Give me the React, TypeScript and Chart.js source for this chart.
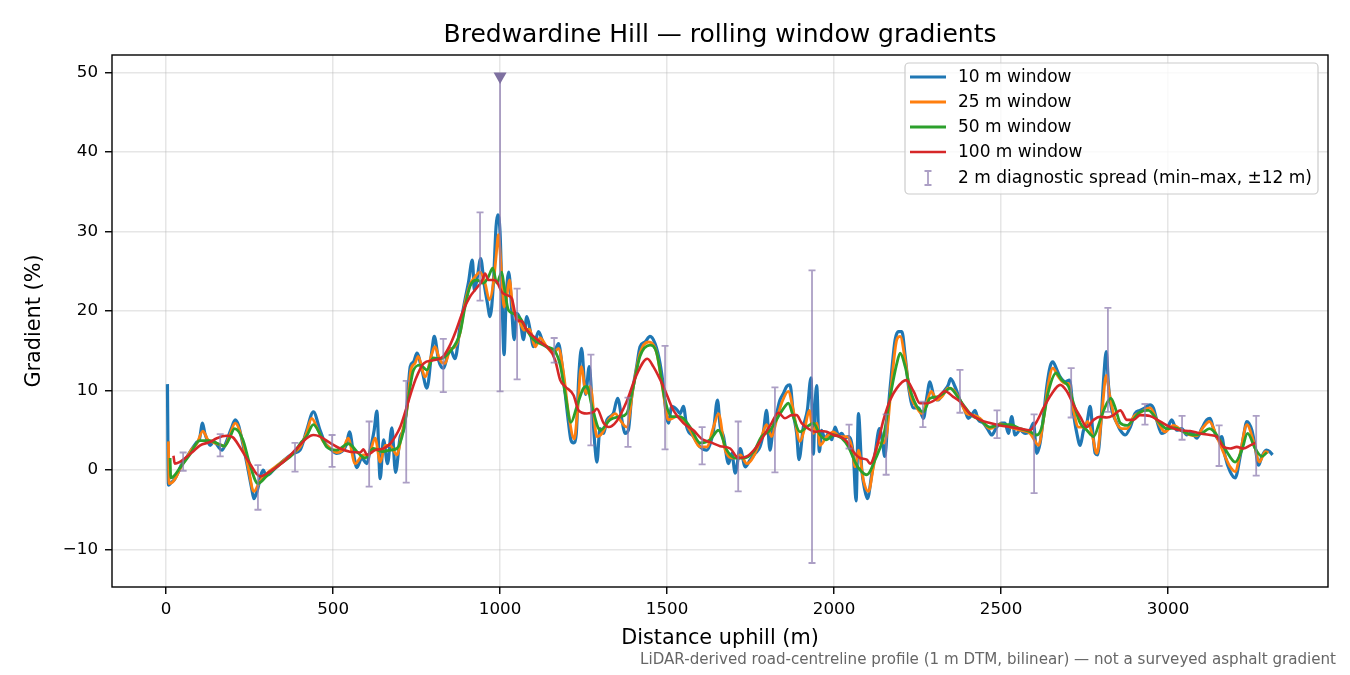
import { useEffect, useRef } from "react"
import { Chart, registerables } from "chart.js"

Chart.register(...registerables)

type Pt = [number, number]

// rolling-window gradients: [distance uphill (m), gradient (%)]
const w10: Pt[] = [
  [4, 10.8], [7, -1.9], [15, -1.6], [25, -1.2], [35, -0.4], [45, 0.6], [60, 1.5], [75, 2.5], [90, 3.4], [100, 3.9],
  [109, 5.9], [116, 4.6], [125, 3.6], [132, 3.1], [142, 3.6], [150, 3.3], [157, 2.9], [167, 2.5], [180, 3.5], [195, 5.2],
  [207, 6.3], [217, 5.6], [227, 3.8], [242, 0.8], [257, -2.5], [263, -3.6], [270, -3.0], [276, -2.1], [284, -0.6], [291, 0],
  [298, -0.6], [305, -0.6], [321, 0], [341, 0.8], [361, 1.5], [381, 2.1], [401, 2.5], [421, 5.0], [441, 7.3], [461, 5.0],
  [476, 3.4], [491, 2.7], [511, 2.1], [526, 2.3], [540, 3.2], [549, 4.8], [561, 2.1], [571, 0.3], [586, 1.5], [601, 0.8],
  [611, 2.5], [623, 5.0], [631, 7.4], [641, -1.1], [651, 3.8], [663, 0.8], [676, 5.3], [687, -0.3], [701, 4.2], [711, 5.0],
  [721, 8.0], [731, 13.0], [741, 13.6], [751, 14.7], [766, 12.6], [781, 10.3], [796, 15.1], [803, 16.8], [816, 13.8], [830, 12.8],
  [850, 15.3], [865, 14.0], [880, 18.0], [895, 21.4], [905, 23.5], [917, 26.4], [923, 22.6], [932, 24.3], [942, 26.6], [952, 23.5],
  [962, 21.0], [970, 19.3], [980, 23.5], [988, 30.6], [993, 32.1], [1000, 29.8], [1006, 21.4], [1012, 14.5], [1018, 21.4], [1026, 24.9],
  [1035, 20.1], [1042, 16.4], [1050, 19.7], [1060, 18.9], [1070, 16.4], [1080, 19.3], [1090, 17.6], [1100, 15.5], [1115, 17.4], [1130, 15.9],
  [1145, 15.3], [1160, 14.7], [1175, 15.9], [1185, 13.4], [1195, 9.6], [1205, 5.9], [1212, 3.8], [1220, 3.4], [1228, 4.5], [1236, 12.0],
  [1244, 15.3], [1256, 9.5], [1267, 13.0], [1276, 8.0], [1284, 3.0], [1290, 1.0], [1299, 5.2], [1310, 4.6], [1320, 6.3], [1339, 7.1],
  [1352, 9.0], [1366, 6.0], [1374, 4.6], [1384, 5.0], [1394, 9.2], [1409, 13.0], [1419, 15.5], [1434, 16.1], [1449, 16.8], [1464, 15.9],
  [1479, 13.4], [1489, 10.5], [1497, 7.1], [1504, 5.9], [1514, 8.0], [1529, 7.6], [1539, 7.1], [1549, 8.0], [1559, 5.4], [1579, 4.2],
  [1599, 2.9], [1619, 2.5], [1639, 5.0], [1651, 8.8], [1659, 5.5], [1669, 4.2], [1684, 0.8], [1694, 2.1], [1704, -0.4], [1719, 2.7],
  [1734, 0.4], [1749, 1.3], [1764, 2.1], [1778, 2.9], [1788, 4.6], [1798, 7.5], [1808, 2.5], [1818, 5.4], [1828, 7.1], [1838, 8.8],
  [1848, 9.6], [1858, 10.5], [1868, 10.7], [1878, 7.1], [1888, 4.6], [1895, 1.3], [1908, 5.4], [1920, 7.5], [1931, 11.6], [1938, 2.0],
  [1943, 8.0], [1948, 10.6], [1956, 2.3], [1963, 5.0], [1973, 3.8], [1983, 4.6], [1993, 3.8], [2003, 5.4], [2013, 4.4], [2023, 4.6],
  [2033, 4.0], [2043, 4.2], [2058, 1.7], [2066, -3.9], [2073, 7.1], [2083, 0], [2092, -2.5], [2100, -3.6], [2113, -0.5], [2123, 2.1],
  [2136, 5.2], [2145, 3.5], [2152, 1.7], [2163, 8.0], [2173, 12.6], [2183, 16.4], [2193, 17.4], [2203, 17.4], [2213, 14.3], [2223, 10.5],
  [2238, 7.8], [2253, 7.8], [2268, 6.5], [2278, 9.2], [2287, 11.1], [2299, 9.2], [2312, 8.8], [2329, 9.9], [2342, 10.7], [2349, 11.5],
  [2362, 10.5], [2377, 8.8], [2392, 7.5], [2402, 6.5], [2412, 6.9], [2422, 7.5], [2432, 6.3], [2447, 5.9], [2462, 5.0], [2472, 4.4],
  [2487, 5.4], [2502, 5.9], [2512, 5.9], [2522, 4.6], [2532, 6.7], [2542, 4.4], [2557, 5.0], [2572, 4.6], [2587, 5.0], [2597, 5.9],
  [2607, 2.1], [2617, 3.4], [2627, 6.7], [2637, 10.5], [2647, 13.0], [2655, 13.6], [2667, 12.6], [2677, 11.7], [2692, 11.1], [2705, 11.3],
  [2717, 7.1], [2727, 4.6], [2737, 3.1], [2747, 5.0], [2757, 5.9], [2767, 8.0], [2775, 4.6], [2782, 2.1], [2789, 1.9], [2799, 5.9],
  [2807, 11.3], [2815, 14.9], [2822, 10.5], [2832, 7.5], [2847, 5.9], [2857, 5.0], [2872, 4.4], [2887, 5.4], [2901, 7.1], [2916, 7.5],
  [2931, 7.8], [2946, 8.2], [2956, 7.8], [2966, 6.3], [2981, 4.6], [2996, 5.0], [3011, 6.3], [3026, 5.0], [3041, 5.2], [3056, 4.4],
  [3071, 4.7], [3086, 4.0], [3101, 5.2], [3116, 6.3], [3126, 6.5], [3136, 5.2], [3151, 3.8], [3161, 4.2], [3171, 1.7], [3186, -0.2],
  [3201, -1.0], [3216, 1.7], [3226, 4.2], [3236, 6.1], [3251, 5.0], [3261, 2.9], [3271, 0.6], [3281, 1.7], [3294, 2.5], [3305, 2.3],
  [3313, 1.9],
]

const w25: Pt[] = [
  [7, 3.6], [9, -1.7], [20, -1.5], [30, -0.9], [45, 0.4], [60, 1.4], [75, 2.5], [92, 3.3], [110, 4.9], [125, 3.8],
  [140, 3.5], [160, 3.2], [175, 3.0], [190, 4.3], [207, 5.9], [230, 3.5], [245, 0.5], [263, -2.7], [280, -1.5], [300, -0.5],
  [340, 0.8], [380, 2.1], [401, 2.9], [420, 4.6], [436, 6.5], [455, 5.0], [470, 3.6], [490, 2.8], [510, 2.2], [530, 2.6],
  [545, 4.0], [566, 0.8], [590, 1.9], [606, 1.8], [626, 4.0], [641, 1.0], [656, 3.1], [671, 3.1], [691, 1.9], [706, 4.6],
  [721, 7.5], [733, 12.6], [745, 13.4], [755, 14.3], [775, 11.7], [795, 14.5], [805, 15.5], [820, 13.8], [835, 13.4], [850, 15.1],
  [865, 15.5], [880, 17.2], [895, 21.0], [910, 23.3], [925, 24.3], [940, 24.9], [955, 23.5], [968, 21.4], [980, 23.5], [988, 26.8],
  [995, 29.6], [1003, 25.6], [1012, 20.5], [1020, 21.8], [1028, 23.9], [1038, 20.5], [1048, 19.3], [1060, 18.5], [1072, 17.6], [1088, 17.7],
  [1105, 15.5], [1120, 16.6], [1140, 15.5], [1160, 14.7], [1175, 15.3], [1190, 12.2], [1205, 7.1], [1222, 3.9], [1232, 7.5], [1243, 13.0],
  [1258, 9.6], [1270, 10.5], [1290, 4.2], [1305, 4.6], [1325, 6.3], [1345, 7.1], [1359, 6.3], [1379, 5.4], [1399, 10.5], [1419, 14.7],
  [1444, 16.1], [1469, 14.7], [1489, 9.6], [1504, 6.3], [1529, 6.7], [1549, 6.3], [1569, 5.0], [1599, 2.9], [1619, 2.9], [1639, 5.4],
  [1654, 7.1], [1674, 2.5], [1699, 1.5], [1719, 1.9], [1739, 0.8], [1759, 1.7], [1783, 4.2], [1798, 5.7], [1813, 4.2], [1828, 6.3],
  [1843, 8.4], [1863, 9.9], [1878, 7.5], [1898, 3.6], [1913, 5.4], [1926, 7.5], [1938, 4.6], [1948, 5.9], [1958, 3.1], [1978, 4.2],
  [1998, 4.8], [2018, 4.2], [2038, 4.2], [2053, 2.9], [2063, 0.4], [2073, 2.5], [2088, -1.3], [2103, -2.7], [2118, 0.4], [2133, 3.4],
  [2148, 3.4], [2158, 4.6], [2173, 11.3], [2188, 16.4], [2198, 16.8], [2213, 13.8], [2228, 9.6], [2248, 7.8], [2263, 7.1], [2278, 8.6],
  [2291, 9.9], [2308, 8.8], [2323, 9.2], [2342, 10.3], [2357, 10.1], [2377, 8.8], [2397, 7.1], [2417, 6.9], [2437, 6.5], [2467, 5.2],
  [2497, 5.8], [2527, 5.4], [2557, 5.0], [2587, 4.6], [2602, 3.6], [2612, 3.1], [2627, 6.3], [2642, 10.9], [2655, 12.8], [2672, 11.7],
  [2692, 10.9], [2702, 10.9], [2717, 7.5], [2732, 5.4], [2747, 5.4], [2759, 6.1], [2772, 4.6], [2787, 2.1], [2802, 7.1], [2815, 11.9],
  [2826, 9.2], [2842, 6.3], [2862, 5.2], [2877, 5.2], [2897, 6.7], [2916, 7.2], [2946, 7.8], [2971, 5.9], [2991, 4.8], [3016, 5.6],
  [3041, 5.0], [3066, 4.4], [3086, 4.3], [3106, 5.4], [3124, 6.1], [3146, 4.2], [3171, 1.7], [3186, 0.4], [3201, -0.2], [3216, 2.1],
  [3236, 5.7], [3256, 3.6], [3274, 1.0], [3291, 2.3], [3301, 2.2],
]

const w50: Pt[] = [
  [12, 1.5], [14, -1.0], [25, -0.7], [42, 0.3], [72, 2.0], [100, 3.7], [130, 3.7], [160, 3.2], [175, 3.0], [190, 4.0],
  [205, 5.2], [230, 3.8], [250, 0.8], [275, -1.7], [300, -0.8], [340, 0.7], [380, 2.0], [401, 3.3], [420, 4.2], [441, 5.7],
  [461, 4.5], [481, 2.9], [511, 2.5], [546, 3.3], [576, 2.1], [596, 1.5], [621, 2.7], [646, 2.3], [671, 2.5], [691, 2.7],
  [711, 5.0], [726, 9.2], [741, 12.6], [761, 13.2], [781, 12.6], [800, 14.1], [820, 14.0], [850, 14.9], [880, 17.2], [895, 20.5],
  [910, 23.1], [930, 23.9], [950, 23.5], [965, 24.3], [978, 25.4], [990, 23.5], [1005, 24.9], [1012, 23.1], [1025, 20.1], [1040, 19.7],
  [1060, 19.1], [1080, 17.6], [1100, 16.4], [1120, 15.9], [1140, 15.5], [1165, 14.9], [1180, 13.2], [1195, 9.6], [1212, 6.0], [1230, 8.0],
  [1250, 10.3], [1260, 10.5], [1275, 8.0], [1300, 5.0], [1329, 6.3], [1359, 6.7], [1379, 7.1], [1399, 10.5], [1419, 14.3], [1449, 15.7],
  [1469, 14.7], [1494, 8.8], [1514, 6.7], [1539, 6.7], [1569, 5.4], [1599, 3.4], [1629, 3.8], [1654, 5.0], [1679, 2.5], [1704, 1.5],
  [1729, 1.5], [1759, 2.3], [1783, 4.2], [1808, 5.0], [1833, 6.7], [1853, 8.0], [1863, 8.4], [1878, 6.7], [1898, 4.8], [1918, 5.4],
  [1938, 5.9], [1958, 4.4], [1978, 3.8], [1998, 4.4], [2023, 4.0], [2043, 2.9], [2063, 1.0], [2078, 0], [2098, -0.6], [2123, 1.3],
  [2148, 4.2], [2168, 9.2], [2188, 13.4], [2198, 14.7], [2213, 13.0], [2228, 10.1], [2248, 8.0], [2268, 7.3], [2287, 9.0], [2308, 9.2],
  [2327, 9.6], [2347, 10.3], [2367, 9.4], [2387, 8.2], [2412, 6.9], [2437, 6.3], [2467, 5.4], [2497, 5.7], [2527, 5.7], [2557, 5.2],
  [2587, 4.8], [2607, 4.4], [2622, 5.4], [2642, 9.9], [2665, 12.2], [2682, 11.3], [2702, 10.5], [2717, 8.4], [2737, 5.9], [2757, 5.0],
  [2777, 4.2], [2797, 6.3], [2817, 8.4], [2829, 9.0], [2842, 7.8], [2857, 5.9], [2877, 5.6], [2897, 6.4], [2916, 7.3], [2941, 7.5],
  [2971, 6.1], [2996, 5.2], [3021, 5.3], [3046, 4.8], [3076, 4.4], [3101, 4.6], [3124, 5.2], [3146, 4.4], [3176, 2.3], [3201, 1.0],
  [3221, 2.5], [3238, 4.6], [3261, 2.7], [3281, 1.7], [3296, 2.2],
]

const w100: Pt[] = [
  [22, 1.8], [26, 0.8], [40, 1.0], [60, 1.6], [80, 2.3], [102, 3.1], [130, 3.5], [152, 4.0], [182, 4.3], [200, 4.1],
  [222, 2.8], [251, 0.8], [281, -0.8], [311, -0.2], [351, 1.0], [391, 2.7], [421, 4.0], [441, 4.4], [461, 4.2], [491, 3.4],
  [521, 2.7], [550, 2.3], [581, 2.2], [591, 2.6], [601, 1.9], [626, 2.5], [651, 2.7], [671, 3.3], [686, 4.2], [701, 5.4],
  [716, 7.3], [731, 9.4], [746, 11.3], [771, 13.4], [800, 13.8], [830, 14.3], [850, 15.7], [865, 17.2], [890, 20.1], [910, 21.8],
  [930, 22.9], [945, 23.7], [955, 24.7], [965, 23.9], [980, 23.9], [990, 23.7], [1005, 22.4], [1020, 22.0], [1035, 21.6], [1050, 18.9],
  [1065, 18.7], [1080, 17.6], [1100, 16.8], [1120, 16.1], [1150, 15.1], [1165, 13.8], [1180, 11.3], [1195, 10.5], [1220, 9.4], [1235, 7.5],
  [1260, 7.1], [1280, 7.3], [1290, 7.7], [1310, 5.9], [1325, 5.4], [1350, 6.2], [1379, 8.6], [1409, 12.0], [1441, 14.0], [1459, 13.0],
  [1489, 10.5], [1519, 7.5], [1549, 5.9], [1579, 5.0], [1604, 3.9], [1629, 3.5], [1659, 3.0], [1689, 2.7], [1714, 1.5], [1739, 1.7],
  [1764, 2.7], [1788, 4.2], [1813, 5.9], [1833, 7.2], [1853, 6.5], [1873, 6.9], [1888, 6.9], [1903, 5.9], [1923, 5.2], [1943, 4.8],
  [1958, 4.9], [1978, 4.8], [1998, 4.4], [2018, 4.2], [2038, 3.6], [2058, 2.3], [2078, 1.5], [2098, 1.3], [2108, 0.8], [2128, 2.9],
  [2148, 6.3], [2168, 8.8], [2188, 10.3], [2216, 11.3], [2238, 9.9], [2257, 8.4], [2278, 8.4], [2302, 8.8], [2332, 9.9], [2357, 9.2],
  [2377, 8.6], [2407, 7.1], [2437, 6.3], [2467, 5.9], [2497, 5.6], [2527, 5.4], [2557, 5.2], [2587, 5.0], [2607, 6.1], [2627, 7.8],
  [2652, 9.6], [2677, 10.7], [2697, 9.9], [2717, 8.2], [2737, 6.7], [2757, 5.4], [2777, 6.3], [2797, 6.7], [2817, 6.6], [2837, 6.9],
  [2857, 7.5], [2877, 6.3], [2897, 6.3], [2916, 6.9], [2946, 6.8], [2976, 6.1], [3006, 5.4], [3036, 5.0], [3066, 4.9], [3096, 4.6],
  [3126, 4.4], [3146, 4.2], [3166, 2.9], [3186, 2.7], [3206, 2.9], [3226, 2.7], [3246, 3.1], [3261, 3.4],
]

// 2 m diagnostic spread: [distance, min, max]
const spread: [number, number, number][] = [
  [51, -0.1, 2.2], [162, 1.7, 4.5], [275, -5.0, 0.6], [386, -0.2, 3.4], [497, 0.4, 4.4], [608, -2.1, 6.1],
  [719, -1.6, 11.2], [830, 9.8, 16.5], [940, 21.3, 32.4], [1051, 11.4, 22.8], [1162, 13.5, 16.6], [1272, 3.1, 14.5],
  [1383, 2.9, 9.1], [1494, 2.6, 15.6], [1605, 0.7, 5.4], [1713, -2.7, 6.1], [1823, -0.3, 10.4], [1934, -11.7, 25.1],
  [2045, 2.7, 5.7], [2156, -0.6, 7.0], [2266, 5.4, 8.6], [2377, 7.2, 12.6], [2488, 4.0, 7.5], [2599, -2.9, 7.0],
  [2710, 6.6, 12.8], [2820, 7.3, 20.4], [2931, 5.7, 8.3], [3042, 3.8, 6.8], [3153, 0.5, 5.6], [3264, -0.7, 6.8],
]
// spread whose max runs off the top of the axis (marked with a triangle)
const clippedSpread: [number, number, number] = [1000, 9.9, 49.3]

const xTicks = [0, 500, 1000, 1500, 2000, 2500, 3000]
const yTicks = [-10, 0, 10, 20, 30, 40, 50]

const seriesLabels = ["10 m window", "25 m window", "50 m window", "100 m window"]
const seriesColors = ["#1f77b4", "#ff7f0e", "#2ca02c", "#d62728"]
const seriesWidths = [3.2, 2.8, 2.8, 2.6]
const spreadLabel = "2 m diagnostic spread (min\u2013max, \u00b112 m)"

const FONT = "'DejaVu Sans', sans-serif"
const SPREAD_COLOR = "rgba(140, 122, 175, 0.72)"
const MARKER_COLOR = "#7e70a0"

function drawBar(ctx: CanvasRenderingContext2D, px: number, p0: number, p1: number, cap: number, capTop = true) {
  ctx.beginPath()
  ctx.moveTo(px, p0)
  ctx.lineTo(px, p1)
  ctx.moveTo(px - cap, p0)
  ctx.lineTo(px + cap, p0)
  if (capTop) {
    ctx.moveTo(px - cap, p1)
    ctx.lineTo(px + cap, p1)
  }
  ctx.stroke()
}

const decorations = {
  id: "decorations",
  afterDatasetsDraw(chart: any) {
    const { ctx, chartArea: a, scales } = chart
    const x = scales.x
    const y = scales.y
    ctx.save()
    ctx.beginPath()
    ctx.rect(a.left, a.top, a.right - a.left, a.bottom - a.top)
    ctx.clip()
    ctx.strokeStyle = SPREAD_COLOR
    ctx.lineWidth = 1.8
    for (const [d, lo, hi] of spread) {
      drawBar(ctx, x.getPixelForValue(d), y.getPixelForValue(lo), y.getPixelForValue(hi), 3.5)
    }
    const [cd, clo, chi] = clippedSpread
    const cx = x.getPixelForValue(cd)
    const cy = y.getPixelForValue(chi)
    drawBar(ctx, cx, y.getPixelForValue(clo), cy, 3.5, false)
    ctx.fillStyle = MARKER_COLOR
    ctx.beginPath()
    ctx.moveTo(cx - 6.5, cy - 5.5)
    ctx.lineTo(cx + 6.5, cy - 5.5)
    ctx.lineTo(cx, cy + 6)
    ctx.closePath()
    ctx.fill()
    ctx.restore()
  },
  afterDraw(chart: any) {
    const { ctx, chartArea: a } = chart
    ctx.save()

    // frame
    ctx.strokeStyle = "#000"
    ctx.lineWidth = 1.4
    ctx.strokeRect(a.left, a.top, a.right - a.left, a.bottom - a.top)

    // title and axis labels
    ctx.fillStyle = "#000"
    ctx.textAlign = "center"
    ctx.textBaseline = "alphabetic"
    ctx.font = `25px ${FONT}`
    ctx.fillText("Bredwardine Hill \u2014 rolling window gradients", (a.left + a.right) / 2, 42)

    ctx.font = `20.8px ${FONT}`
    ctx.textBaseline = "middle"
    ctx.fillText("Distance uphill (m)", (a.left + a.right) / 2, 639)
    ctx.save()
    ctx.translate(35, (a.top + a.bottom) / 2)
    ctx.rotate(-Math.PI / 2)
    ctx.fillText("Gradient (%)", 0, 0)
    ctx.restore()

    // footnote
    ctx.font = `15.1px ${FONT}`
    ctx.fillStyle = "#666"
    ctx.textAlign = "right"
    ctx.fillText(
      "LiDAR-derived road-centreline profile (1 m DTM, bilinear) \u2014 not a surveyed asphalt gradient",
      1336,
      660
    )

    // legend
    const lx = 905
    const ly = 63
    const lw = 413
    const lh = 131
    ctx.fillStyle = "rgba(255,255,255,0.8)"
    ctx.strokeStyle = "#cccccc"
    ctx.lineWidth = 1.2
    ctx.beginPath()
    ctx.roundRect(lx, ly, lw, lh, 4)
    ctx.fill()
    ctx.stroke()

    ctx.font = `17px ${FONT}`
    ctx.textAlign = "left"
    ctx.textBaseline = "middle"
    const rows = [77, 102, 127, 152, 178]
    seriesLabels.forEach((label, i) => {
      ctx.strokeStyle = seriesColors[i]
      ctx.lineWidth = seriesWidths[i]
      ctx.beginPath()
      ctx.moveTo(910, rows[i])
      ctx.lineTo(946, rows[i])
      ctx.stroke()
      ctx.fillStyle = "#000"
      ctx.fillText(label, 958, rows[i] + 0.5)
    })
    ctx.strokeStyle = SPREAD_COLOR
    ctx.lineWidth = 1.8
    drawBar(ctx, 928, rows[4] + 7, rows[4] - 7, 3.5)
    ctx.fillStyle = "#000"
    ctx.fillText(spreadLabel, 958, rows[4] + 0.5)

    ctx.restore()
  },
}

export default function App() {
  const chartRef = useRef<HTMLCanvasElement>(null)
  const chartInstance = useRef<Chart | null>(null)

  useEffect(() => {
    document.body.style.margin = "0"
    if (!chartRef.current) return

    if (chartInstance.current) {
      chartInstance.current.destroy()
    }

    const series = [w10, w25, w50, w100]
    const datasets = series.map((pts, i) => ({
      label: seriesLabels[i],
      data: pts.map(([d, g]) => ({ x: d, y: g })),
      borderColor: seriesColors[i],
      borderWidth: seriesWidths[i],
      pointRadius: 0,
      fill: false,
      cubicInterpolationMode: "monotone" as const,
      order: 4 - i,
    }))

    const tickFont = { family: FONT, size: 16.7 }

    chartInstance.current = new Chart(chartRef.current, {
      type: "line",
      data: { datasets },
      plugins: [decorations],
      options: {
        animation: false,
        responsive: false,
        devicePixelRatio: 1,
        events: [],
        layout: { padding: { top: 55, right: 22, left: 0, bottom: 0 } },
        plugins: {
          legend: { display: false },
          tooltip: { enabled: false },
        },
        scales: {
          x: {
            type: "linear",
            min: -162,
            max: 3479,
            afterBuildTicks: (scale: any) => {
              scale.ticks = xTicks.map((v) => ({ value: v }))
            },
            afterFit: (scale: any) => {
              scale.height = 88
            },
            border: { display: false },
            grid: {
              color: "rgba(176,176,176,0.32)",
              lineWidth: 1.5,
              tickColor: "#000",
              tickLength: 7,
              tickWidth: 1.4,
            },
            ticks: {
              autoSkip: false,
              maxRotation: 0,
              padding: 6,
              color: "#000",
              font: tickFont,
              callback: (v: any) => String(v),
            },
          },
          y: {
            type: "linear",
            min: -14.72,
            max: 52.2,
            afterBuildTicks: (scale: any) => {
              scale.ticks = yTicks.map((v) => ({ value: v }))
            },
            afterFit: (scale: any) => {
              scale.width = 112
            },
            border: { display: false },
            grid: {
              color: "rgba(176,176,176,0.32)",
              lineWidth: 1.5,
              tickColor: "#000",
              tickLength: 7,
              tickWidth: 1.4,
            },
            ticks: {
              autoSkip: false,
              padding: 7,
              color: "#000",
              font: tickFont,
              callback: (v: any) => (v < 0 ? "\u2212" + Math.abs(v) : String(v)),
            },
          },
        },
      },
    })

    return () => {
      if (chartInstance.current) {
        chartInstance.current.destroy()
        chartInstance.current = null
      }
    }
  }, [])

  return (
    <div style={{ width: 1350, height: 675, background: "#fff" }}>
      <canvas ref={chartRef} width={1350} height={675} style={{ display: "block" }} />
    </div>
  )
}
